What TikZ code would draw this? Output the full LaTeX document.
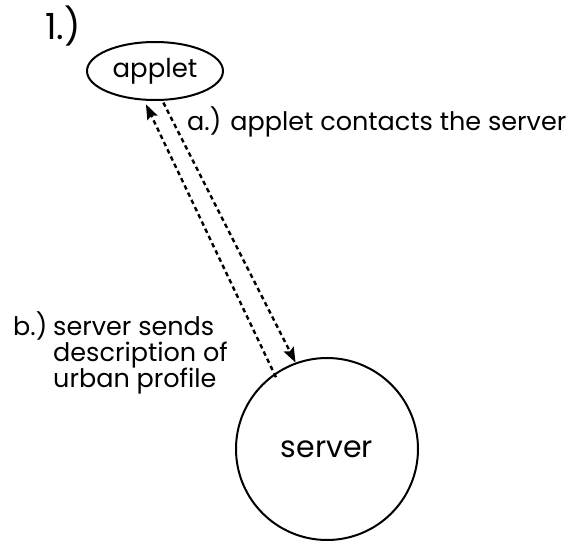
\documentclass[tikz,border=0pt]{standalone}
\usepackage{fontspec}
\setmainfont{Poppins}
\usetikzlibrary{shapes.geometric,arrows.meta}
\tikzset{
  outline/.style={draw=black, line width=2pt},
  msg/.style={draw=black, line width=2.4pt, dash pattern=on 4.5pt off 3.5pt,
    -{Stealth[length=15pt,width=11pt,inset=2.5pt]}},
  lbl/.style={anchor=base west, inner sep=0pt, font=\fontsize{25.5}{30}\selectfont},
}
\begin{document}
\begin{tikzpicture}[x=1pt,y=-1pt]
\useasboundingbox[fill=white] (0,0) rectangle (574,541);
\node[anchor=base west, inner sep=0pt, font=\fontsize{36}{42}\selectfont] (num) at (45,39) {1.)};
\node[outline, ellipse, minimum width=136pt, minimum height=58pt, inner sep=0pt,
  font=\fontsize{26}{30}\selectfont] (applet) at (155,71) {applet};
\node[outline, circle, minimum size=182pt, inner sep=0pt,
  font=\fontsize{30}{36}\selectfont] (server) at (327,449) {server};
\draw[msg, shorten <=2pt] (applet.284) -- (server.110);
\draw[msg, shorten <=-4pt, shorten >=4pt] (server.125) -- (applet.250);
\node[lbl] (la) at (187,130) {a.) applet contacts the server};
\node[lbl] (lb) at (13,335) {b.)};
\node[lbl] (lb1) at (53,335) {server sends};
\node[lbl] (lb2) at (53,361) {description of};
\node[lbl] (lb3) at (53,387) {urban profile};
\end{tikzpicture}
\end{document}
